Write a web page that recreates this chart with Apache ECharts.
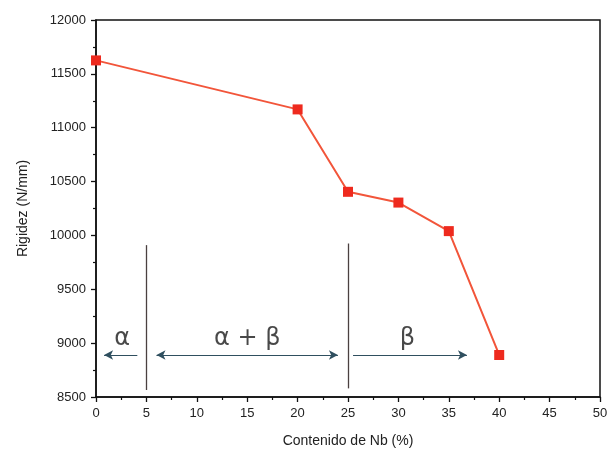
<!DOCTYPE html>
<html><head><meta charset="utf-8">
<script src="https://cdn.jsdelivr.net/npm/echarts@6/dist/echarts.min.js"></script>
<style>html,body{margin:0;padding:0;background:#fff}#c{width:613px;height:455px}</style>
</head><body><div id="c"></div>
<script>
const nbContent = [0, 20, 25, 30, 35, 40];
const rigidez = [11625, 11170, 10405, 10305, 10040, 8890];
const xTicks = [0, 5, 10, 15, 20, 25, 30, 35, 40, 45, 50];
const yTicks = [8500, 9000, 9500, 10000, 10500, 11000, 11500, 12000];
// phase boundaries [x, yBottom, yTop]
const boundaries = [[5, 8565, 9910], [25, 8580, 9925]];
// phase arrows [xFrom, xTo, y, symbols]
const phaseArrows = [[4.1, 0.8, 8890, ['none','arrow']], [6.0, 24.0, 8890, ['arrow','arrow']], [25.5, 36.8, 8890, ['none','arrow']]];
// phase labels [x, y, text]
const phaseLabels = [[2.6, 9040, 'α'], [15, 9040, 'α + β'], [30.9, 9040, 'β']];

const chart = echarts.init(document.getElementById('c'));
const font = 'Liberation Sans, Arial, sans-serif';
const markLineData = [];
boundaries.forEach(b => markLineData.push([
  {coord:[b[0], b[1]], symbol:'none', lineStyle:{color:'#4a4040', width:1.3, type:'solid'}},
  {coord:[b[0], b[2]], symbol:'none'}
]));
phaseArrows.forEach(a => markLineData.push([
  {coord:[a[0], a[2]], symbol:a[3][0], lineStyle:{color:'#2f4f5f', width:1.2, type:'solid'}},
  {coord:[a[1], a[2]], symbol:a[3][1]}
]));
chart.setOption({
  animation:false,
  grid:{left:96, right:13, top:20, bottom:58, show:true, borderColor:'#111', borderWidth:1.5, backgroundColor:'transparent'},
  xAxis:{type:'value', min:xTicks[0], max:xTicks[xTicks.length-1], interval:5,
    name:'Contenido de Nb (%)', nameLocation:'middle', nameGap:37,
    nameTextStyle:{fontFamily:font, fontSize:14, color:'#222'},
    axisLine:{lineStyle:{color:'#111', width:1.5}},
    axisTick:{inside:false, length:5, lineStyle:{color:'#111', width:1.3}},
    minorTick:{show:true, splitNumber:2, length:3, lineStyle:{color:'#111', width:1.2}},
    splitLine:{show:false},
    axisLabel:{fontFamily:font, fontSize:13, color:'#222', margin:10}},
  yAxis:{type:'value', min:yTicks[0], max:yTicks[yTicks.length-1], interval:500,
    name:'Rigidez (N/mm)', nameLocation:'middle', nameGap:66, nameRotate:90,
    nameTextStyle:{fontFamily:font, fontSize:14, color:'#222'},
    axisLine:{lineStyle:{color:'#111', width:1.5}},
    axisTick:{inside:false, length:5, lineStyle:{color:'#111', width:1.3}},
    minorTick:{show:true, splitNumber:2, length:3, lineStyle:{color:'#111', width:1.2}},
    splitLine:{show:false},
    axisLabel:{fontFamily:font, fontSize:13, color:'#222', margin:10, formatter:v=>String(v)}},
  series:[
    {type:'line', data:nbContent.map((x,i)=>[x, rigidez[i]]),
      symbol:'rect', symbolSize:10, itemStyle:{color:'#ee2a1e'},
      lineStyle:{color:'#f2553a', width:2}, z:5,
      markLine:{silent:true, symbolSize:[7,9], label:{show:false}, itemStyle:{color:'#111'},
        data:markLineData}},
    {type:'scatter', data:phaseLabels.map(p=>[p[0], p[1], p[2]]), symbolSize:0,
      label:{show:true, position:'inside', formatter:p=>p.data[2], fontFamily:'DejaVu Sans, sans-serif', fontSize:24, color:'#1a1a1a'}}
  ]
});
</script></body></html>
